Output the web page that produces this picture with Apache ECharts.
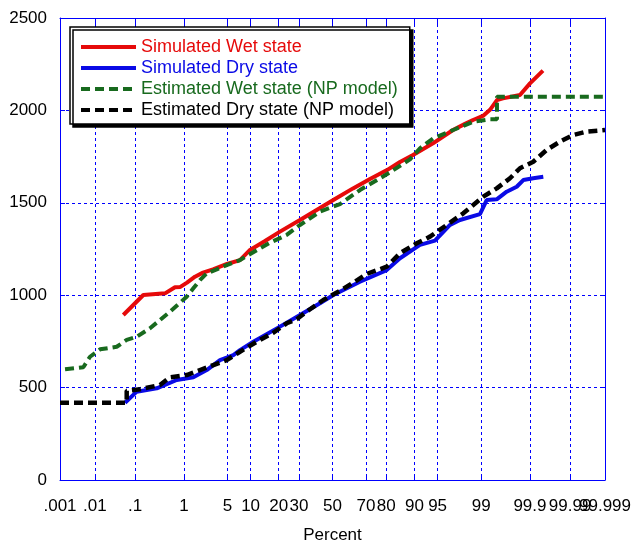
<!DOCTYPE html>
<html>
<head>
<meta charset="utf-8">
<script src="https://cdn.jsdelivr.net/npm/echarts@6/dist/echarts.min.js"></script>
<style>html,body{margin:0;padding:0;background:#fff}#c{width:634px;height:545px}</style>
</head>
<body>
<div id="c"></div>
<script>
// Probability-axis tick positions (percent) and labels
var tickPercents = [0.001, 0.01, 0.1, 1, 5, 10, 20, 30, 50, 70, 80, 90, 95, 99, 99.9, 99.99, 99.999];
var tickLabels = ['.001', '.01', '.1', '1', '5', '10', '20', '30', '50', '70', '80', '90', '95', '99', '99.9', '99.99', '99.999'];

// Series: x = standard normal quantile of the plotting position, y = value
var wetSimQ = [-3.274, -2.961, -2.621, -2.465, -2.387, -2.277, -2.152, -2.027, -1.870, -1.651, -1.448, -1.291, -1.056, -0.822, -0.509, -0.196, 0.039, 0.321, 0.587, 0.853, 1.056, 1.260, 1.573, 1.886, 2.074, 2.199, 2.355, 2.465, 2.574, 2.668, 2.934, 3.091, 3.294];
var wetSimV = [893, 1001, 1010, 1043, 1044, 1068, 1100, 1122, 1140, 1169, 1190, 1245, 1293, 1344, 1407, 1472, 1521, 1578, 1629, 1677, 1721, 1759, 1822, 1894, 1927, 1948, 1970, 2003, 2056, 2065, 2083, 2146, 2215];

var drySimQ = [-3.247, -3.064, -2.751, -2.438, -2.178, -1.969, -1.761, -1.552, -1.448, -1.239, -0.822, -0.509, -0.196, 0.013, 0.430, 0.848, 1.056, 1.369, 1.604, 1.839, 1.995, 2.308, 2.413, 2.570, 2.726, 2.883, 2.986, 3.142, 3.299];
var drySimV = [418, 478, 496, 541, 556, 595, 649, 676, 703, 748, 830, 893, 956, 1001, 1073, 1136, 1200, 1272, 1295, 1380, 1407, 1439, 1515, 1519, 1560, 1587, 1623, 1633, 1641];

var wetEstQ = [-4.186, -3.900, -3.795, -3.638, -3.377, -3.221, -3.064, -2.856, -2.700, -2.543, -2.387, -2.282, -2.178, -2.074, -1.969, -1.812, -1.656, -1.448, -1.343, -0.978, -0.717, -0.509, -0.196, 0.117, 0.430, 0.848, 1.213, 1.369, 1.577, 1.890, 2.203, 2.465, 2.574, 2.574, 4.264];
var wetEstV = [599, 610, 667, 707, 721, 758, 775, 821, 866, 911, 959, 992, 1037, 1082, 1118, 1140, 1163, 1190, 1212, 1284, 1326, 1380, 1452, 1493, 1569, 1654, 1735, 1795, 1849, 1894, 1939, 1952, 1952, 2074, 2074];

var dryEstQ = [-4.265, -3.221, -3.221, -3.013, -2.700, -2.543, -2.282, -2.074, -1.865, -1.656, -1.448, -1.186, -0.926, -0.717, -0.560, -0.352, -0.144, 0.117, 0.326, 0.535, 0.848, 1.056, 1.318, 1.526, 1.787, 2.047, 2.360, 2.570, 2.778, 2.934, 3.142, 3.352, 3.560, 3.768, 3.978, 4.265];
var dryEstV = [418, 418, 483, 491, 514, 556, 568, 595, 622, 649, 694, 748, 797, 848, 870, 924, 974, 1024, 1068, 1115, 1154, 1227, 1281, 1317, 1380, 1443, 1533, 1578, 1633, 1687, 1722, 1786, 1831, 1867, 1885, 1894];

var seriesNames = ['Simulated Wet state', 'Simulated Dry state', 'Estimated Wet state (NP model)', 'Estimated Dry state (NP model)'];
var seriesColors = ['#e60a0a', '#0a0ae6', '#186a1e', '#000000'];

function probit(p) {
  var a = [-3.969683028665376e+01, 2.209460984245205e+02, -2.759285104469687e+02, 1.383577518672690e+02, -3.066479806614716e+01, 2.506628277459239e+00];
  var b = [-5.447609879822406e+01, 1.615858368580409e+02, -1.556989798598866e+02, 6.680131188771972e+01, -1.328068155288572e+01];
  var c = [-7.784894002430293e-03, -3.223964580411365e-01, -2.400758277161838e+00, -2.549732539343734e+00, 4.374664141464968e+00, 2.938163982698783e+00];
  var d = [7.784695709041462e-03, 3.224671290700398e-01, 2.445134137142996e+00, 3.754408661907416e+00];
  var plow = 0.02425, phigh = 1 - plow, q, r;
  if (p < plow) {
    q = Math.sqrt(-2 * Math.log(p));
    return (((((c[0]*q+c[1])*q+c[2])*q+c[3])*q+c[4])*q+c[5]) / ((((d[0]*q+d[1])*q+d[2])*q+d[3])*q+1);
  } else if (p <= phigh) {
    q = p - 0.5; r = q * q;
    return (((((a[0]*r+a[1])*r+a[2])*r+a[3])*r+a[4])*r+a[5])*q / (((((b[0]*r+b[1])*r+b[2])*r+b[3])*r+b[4])*r+1);
  } else {
    q = Math.sqrt(-2 * Math.log(1 - p));
    return -(((((c[0]*q+c[1])*q+c[2])*q+c[3])*q+c[4])*q+c[5]) / ((((d[0]*q+d[1])*q+d[2])*q+d[3])*q+1);
  }
}

var tickZ = tickPercents.map(function (pc) { return probit(pc / 100); });
var zMin = tickZ[0], zMax = tickZ[tickZ.length - 1];
function labelFor(v) {
  var best = 0, bd = Infinity;
  for (var i = 0; i < tickZ.length; i++) { var dd = Math.abs(tickZ[i] - v); if (dd < bd) { bd = dd; best = i; } }
  return tickLabels[best];
}
function pairs(xs, ys) { return xs.map(function (x, i) { return [x, ys[i]]; }); }

var FONT = 'Liberation Sans, Arial, sans-serif';
var BLUE = '#0000ff';
var gridLine = { show: true, lineStyle: { color: BLUE, width: 1, type: [3, 3] } };
var LABEL_MARGIN = 18;

// The last three probability labels overlap in the original; each sits on its own
// label-only bottom axis so that none of them is dropped by overlap handling.
function labelOnlyAxis(values) {
  return {
    type: 'value', position: 'bottom', offset: 0, min: zMin, max: zMax,
    axisLine: { show: false }, axisTick: { show: false }, splitLine: { show: false },
    axisLabel: { show: true, customValues: values, formatter: labelFor, fontFamily: FONT, fontSize: 17, color: '#000', margin: LABEL_MARGIN, showMinLabel: true, showMaxLabel: true, hideOverlap: false }
  };
}

var chart = echarts.init(document.getElementById('c'), null, { renderer: 'canvas' });
chart.setOption({
  animation: false,
  backgroundColor: '#ffffff',
  textStyle: { fontFamily: FONT },
  grid: { left: 60, right: 29, top: 18, bottom: 65, containLabel: false, outerBoundsMode: 'none' },
  legend: {
    orient: 'vertical',
    left: 70, top: 27,
    padding: [11, 12, 5, 9],
    itemWidth: 55, itemHeight: 14, itemGap: 3,
    backgroundColor: '#ffffff',
    borderColor: '#000000', borderWidth: 1.5, borderRadius: 0,
    shadowColor: '#000000', shadowBlur: 0, shadowOffsetX: 3, shadowOffsetY: 3,
    itemStyle: { opacity: 0 },
    lineStyle: { width: 4 },
    textStyle: { fontFamily: FONT, fontSize: 18, padding: [0, 0, 0, 0] },
    data: seriesNames.map(function (n, i) { return { name: n, textStyle: { color: seriesColors[i] } }; })
  },
  xAxis: [{
    type: 'value', position: 'bottom', min: zMin, max: zMax,
    name: 'Percent', nameLocation: 'middle', nameGap: 47, nameMoveOverlap: false,
    nameTextStyle: { fontFamily: FONT, fontSize: 17, color: '#000' },
    axisLine: { show: true, onZero: false, lineStyle: { color: BLUE, width: 1 } },
    axisTick: { show: true, inside: true, length: 6, customValues: tickZ, lineStyle: { color: BLUE } },
    axisLabel: { show: true, customValues: tickZ.slice(0, 15), formatter: labelFor, fontFamily: FONT, fontSize: 17, color: '#000', margin: LABEL_MARGIN, showMinLabel: true, showMaxLabel: true, hideOverlap: false },
    splitLine: gridLine
  }, {
    type: 'value', position: 'top', min: zMin, max: zMax,
    axisLine: { show: true, onZero: false, lineStyle: { color: BLUE, width: 1 } },
    axisTick: { show: true, inside: true, length: 6, customValues: tickZ, lineStyle: { color: BLUE } },
    axisLabel: { show: false, customValues: tickZ },
    splitLine: { show: false }
  },
  labelOnlyAxis([tickZ[15]]),
  labelOnlyAxis([tickZ[16]])
  ],
  yAxis: [{
    type: 'value', position: 'left', min: 0, max: 2500, interval: 500,
    axisLine: { show: true, onZero: false, lineStyle: { color: BLUE, width: 1 } },
    axisTick: { show: true, inside: true, length: 5, lineStyle: { color: BLUE } },
    axisLabel: { fontFamily: FONT, fontSize: 17, color: '#000', margin: 13, formatter: function (v) { return String(v); } },
    splitLine: gridLine
  }, {
    type: 'value', position: 'right', min: 0, max: 2500, interval: 500,
    axisLine: { show: true, onZero: false, lineStyle: { color: BLUE, width: 1 } },
    axisTick: { show: true, inside: true, length: 5, lineStyle: { color: BLUE } },
    axisLabel: { show: false },
    splitLine: { show: false }
  }],
  series: [
    { name: seriesNames[0], type: 'line', data: pairs(wetSimQ, wetSimV), showSymbol: false, symbol: 'none', color: seriesColors[0], lineStyle: { width: 4, color: seriesColors[0] } },
    { name: seriesNames[1], type: 'line', data: pairs(drySimQ, drySimV), showSymbol: false, symbol: 'none', color: seriesColors[1], lineStyle: { width: 4, color: seriesColors[1] } },
    { name: seriesNames[2], type: 'line', data: pairs(wetEstQ, wetEstV), showSymbol: false, symbol: 'none', color: seriesColors[2], lineStyle: { width: 4, color: seriesColors[2], type: [9, 5] } },
    { name: seriesNames[3], type: 'line', data: pairs(dryEstQ, dryEstV), showSymbol: false, symbol: 'none', color: seriesColors[3], lineStyle: { width: 4.5, color: seriesColors[3], type: [9, 5] } }
  ]
});
</script>
</body>
</html>
